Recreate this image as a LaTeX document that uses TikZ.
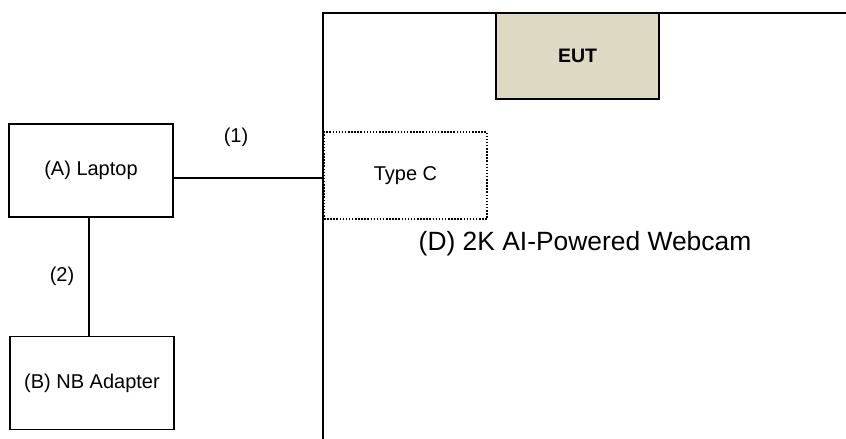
\documentclass[tikz,border=0pt]{standalone}
\usepackage{fontspec}
\setmainfont{Liberation Sans}
\definecolor{euttan}{HTML}{DDD9C3}
\begin{document}
\begin{tikzpicture}[x=1pt,y=-1pt,
  box/.style={draw=black,line width=1.6pt,minimum width=164pt,minimum height=93pt,inner sep=0pt,outer sep=0pt,font=\fontsize{20}{24}\selectfont},
  eutbox/.style={box,fill=euttan,minimum width=163pt,minimum height=86pt,font=\fontsize{19.5}{24}\selectfont\bfseries},
  portbox/.style={draw=black,line width=1.5pt,dash pattern=on 1.5pt off 1.6pt,minimum width=163pt,minimum height=87pt,inner sep=0pt,outer sep=0pt,font=\fontsize{20}{24}\selectfont},
  lbl/.style={inner sep=0pt,font=\fontsize{20}{24}\selectfont},
  conn/.style={line width=1.3pt}]
\useasboundingbox (0,0) rectangle (846,439);
% frame of the EUT area
\draw[line width=1.6pt] (323,440) -- (323,13) -- (847,13);
\node[box] (laptop) at (91,170.5) {(A) Laptop};
\node[box] (adapter) at (92,383) {(B) NB Adapter};
\node[eutbox] (eut) at (577.5,56) {EUT};
\node[portbox] (typec) at (405.5,175.5) {Type C};
\draw[conn] (laptop.east |- 0,178) coordinate (la) -- (la -| typec.west);
\draw[conn] (laptop.south -| 89,0) coordinate (lb) -- (lb |- adapter.north);
\node[lbl] (l1) at (236,137) {(1)};
\node[lbl] (l2) at (62,276) {(2)};
\node[lbl,font=\fontsize{26.4}{31}\selectfont] (webcam) at (585,244) {(D) 2K AI-Powered Webcam};
\end{tikzpicture}
\end{document}
